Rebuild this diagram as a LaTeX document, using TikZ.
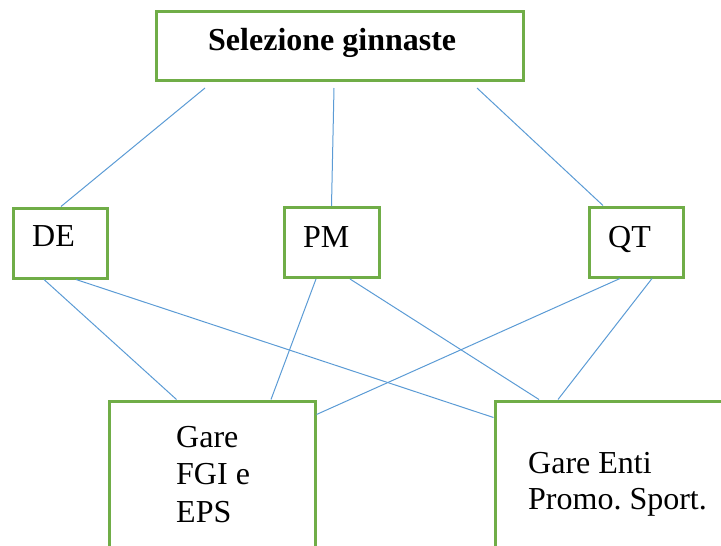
\documentclass[tikz,border=0pt]{standalone}
\usepackage{fontspec}
\setmainfont{Liberation Serif}
\definecolor{boxgreen}{HTML}{70AD47}
\definecolor{lineblue}{HTML}{5B9BD5}
\frenchspacing
\begin{document}
\begin{tikzpicture}[x=1pt,y=-1pt,
  gbox/.style={draw=boxgreen,line width=3pt,fill=white,rectangle,inner sep=0pt},
  conn/.style={draw=lineblue,line width=1pt},
  txt/.style={inner sep=0pt,anchor=base west,font=\fontsize{32}{37}\selectfont},
  ttl/.style={txt,font=\fontsize{32}{37}\selectfont\bfseries}]
\useasboundingbox (0,0) rectangle (721,546);
\clip (0,0) rectangle (721,546);
% boxes
\node[gbox,minimum width=367pt,minimum height=69pt] (sel) at (340,46) {};
\node[gbox,minimum width=94pt,minimum height=70pt] (de) at (60,243) {};
\node[gbox,minimum width=95pt,minimum height=70pt] (pm) at (331.5,242.5) {};
\node[gbox,minimum width=94pt,minimum height=70pt] (qt) at (636,242) {};
\node[gbox,minimum width=206pt,minimum height=200pt,anchor=north] (fgi) at (212,399.5) {};
\node[gbox,minimum width=270pt,minimum height=200pt,anchor=north west] (enti) at (493.5,399.5) {};
% connectors
\draw[conn] ([xshift=-135pt,yshift=-6pt]sel.south) -- ([xshift=1pt]de.north);
\draw[conn] ([xshift=-6pt,yshift=-6pt]sel.south) -- (pm.north);
\draw[conn] ([xshift=137pt,yshift=-6pt]sel.south) -- ([xshift=-33pt]qt.north);
\draw[conn] ([xshift=-16pt]de.south) -- ([xshift=-35.5pt]fgi.north);
\draw[conn] ([xshift=16pt]de.south) -- ([yshift=-18pt]enti.north west);
\draw[conn] ([xshift=-15.5pt]pm.south) -- ([xshift=59pt]fgi.north);
\draw[conn] ([xshift=18.5pt]pm.south) -- ([xshift=45.5pt]enti.north west);
\draw[conn] ([xshift=-16pt]qt.south) -- ([yshift=-15pt]fgi.north east);
\draw[conn] ([xshift=16pt]qt.south) -- ([xshift=64.5pt]enti.north west);
% texts
\node[ttl] (seltxt) at (208,50) {Selezione ginnaste};
\node[txt] (detxt) at (32,246) {DE};
\node[txt] (pmtxt) at (303,247) {PM};
\node[txt] (qttxt) at (608,247) {QT};
\node[txt] (fgia) at (176,447) {Gare};
\node[txt] (fgib) at (176,484) {FGI e};
\node[txt] (fgic) at (176,522) {EPS};
\node[txt] (entia) at (528,473) {Gare Enti};
\node[txt] (entib) at (528,509) {Promo. Sport.};
\end{tikzpicture}
\end{document}
